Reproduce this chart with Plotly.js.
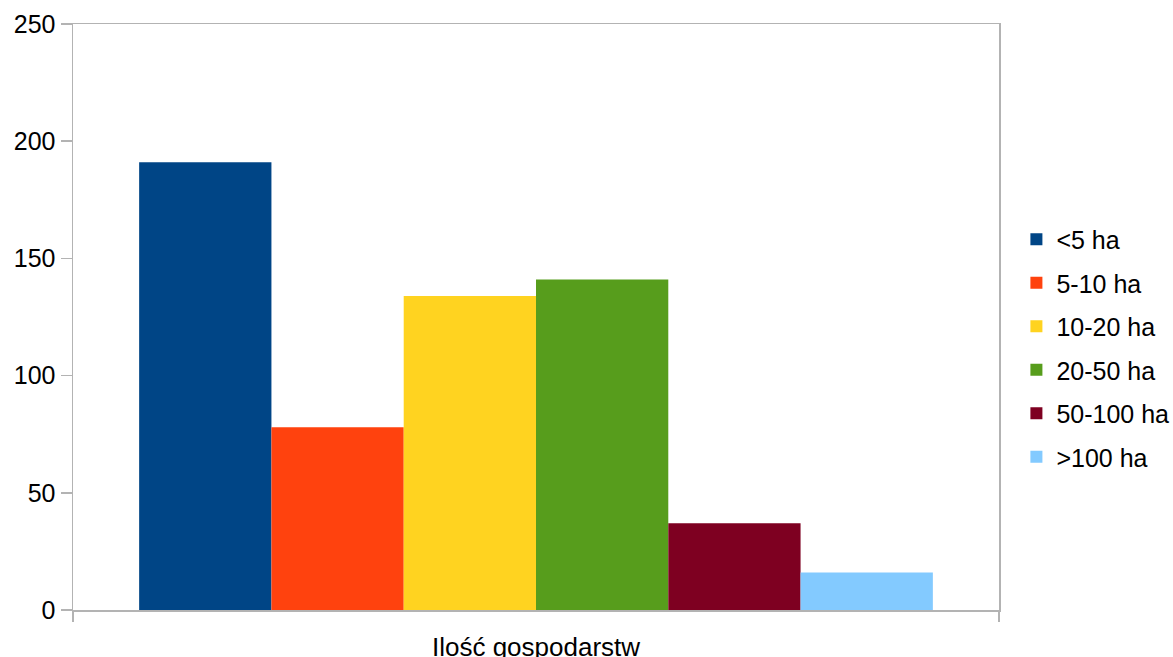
<!DOCTYPE html>
<html>
<head>
<meta charset="utf-8">
<script src="https://cdn.plot.ly/plotly-3.0.1.min.js"></script>
<style>html,body{margin:0;padding:0;background:#fff;}#chart{width:1173px;height:657px;}</style>
</head>
<body>
<div id="chart"></div>
<script>
const category = ["Ilość gospodarstw"];
const seriesNames = ["<5 ha", "5-10 ha", "10-20 ha", "20-50 ha", "50-100 ha", ">100 ha"];
const seriesValues = [191, 78, 134, 141, 37, 16];
const seriesColors = ["#004586", "#ff420e", "#ffd320", "#579d1c", "#7e0021", "#83caff"];
const yTicks = [0, 50, 100, 150, 200, 250];

const traces = seriesNames.map((name, i) => ({
  type: "bar",
  name: name,
  x: category,
  y: [seriesValues[i]],
  marker: {color: seriesColors[i], line: {width: 0}},
  legendgroup: "g" + i,
  hoverinfo: "name+y"
}));

const layout = {
  width: 1173,
  height: 657,
  margin: {l: 73, r: 174, t: 24, b: 47, pad: 0, autoexpand: false},
  paper_bgcolor: "#ffffff",
  plot_bgcolor: "#ffffff",
  font: {family: "Liberation Sans, Arial, sans-serif", size: 25, color: "#000000"},
  barmode: "group",
  bargap: 1/7,
  bargroupgap: 0,
  showlegend: true,
  legend: {
    x: 1.0188, xanchor: "left",
    y: 0.447, yanchor: "middle",
    traceorder: "grouped",
    tracegroupgap: 8,
    font: {size: 25},
    itemwidth: 30
  },
  xaxis: {
    type: "category",
    showgrid: false,
    showline: true,
    linecolor: "#b3b3b3",
    linewidth: 1.5,
    mirror: true,
    ticks: "outside",
    tickson: "boundaries",
    ticklen: 10,
    tickcolor: "#b3b3b3",
    tickwidth: 1.5,
    tickfont: {size: 26},
    ticklabelstandoff: 13,
    zeroline: false
  },
  yaxis: {
    range: [0, 250],
    tickvals: yTicks,
    ticktext: yTicks.map(String),
    showgrid: false,
    showline: true,
    linecolor: "#b3b3b3",
    linewidth: 1.5,
    mirror: true,
    ticks: "outside",
    ticklen: 11,
    tickcolor: "#b3b3b3",
    tickwidth: 1.5,
    tickfont: {size: 25},
    zeroline: false
  }
};

Plotly.newPlot("chart", traces, layout, {displayModeBar: false, staticPlot: true});
</script>
</body>
</html>
